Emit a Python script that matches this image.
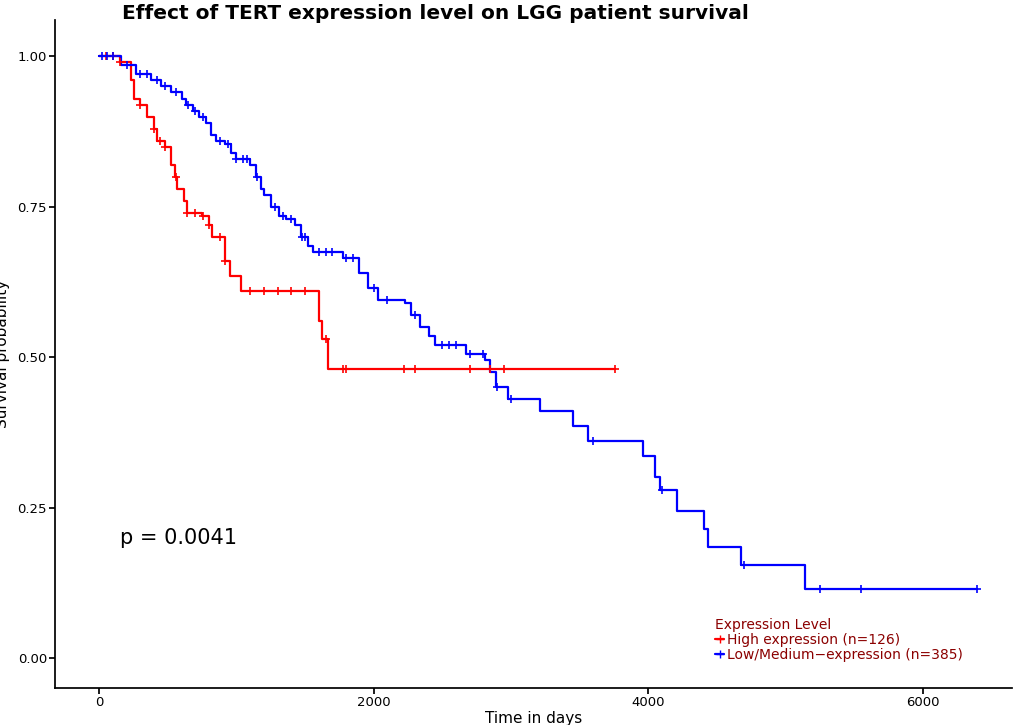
import numpy as np, pandas as pd, seaborn as sns, matplotlib
matplotlib.use("Agg")
import matplotlib.pyplot as plt
from matplotlib.lines import Line2D

red_t = [0,150,230,250,300,350,400,420,480,520,550,570,620,640,750,800,820,920,950,1030,1580,1600,1620,1670,3760]
red_s = [1.0,0.99,0.96,0.93,0.92,0.90,0.88,0.86,0.85,0.82,0.80,0.78,0.76,0.74,0.735,0.72,0.70,0.66,0.635,0.61,0.61,0.56,0.53,0.48,0.48]
red_c = [50,100,150,300,400,440,480,560,640,700,760,800,880,920,1100,1200,1300,1400,1500,1650,1780,1800,2220,2300,2700,2850,2950,3760]
blue_t = [0,160,270,380,450,520,600,630,680,730,780,815,850,920,960,1000,1100,1140,1180,1200,1250,1310,1360,1430,1470,1520,1560,1775,1890,1960,2035,2230,2270,2340,2400,2450,2670,2815,2850,2890,2980,3210,3450,3560,3960,4050,4090,4210,4410,4440,4680,5140,6400]
blue_s = [1.0,0.985,0.97,0.96,0.95,0.94,0.93,0.92,0.91,0.90,0.89,0.87,0.86,0.855,0.84,0.83,0.82,0.80,0.78,0.77,0.75,0.735,0.73,0.72,0.70,0.685,0.675,0.665,0.64,0.615,0.595,0.59,0.57,0.55,0.535,0.52,0.505,0.495,0.475,0.45,0.43,0.41,0.385,0.36,0.335,0.30,0.28,0.245,0.215,0.185,0.155,0.115,0.115]
blue_c = [20,60,100,200,300,350,420,480,560,650,700,760,880,940,1000,1050,1080,1150,1280,1340,1400,1480,1500,1600,1650,1700,1800,1850,2000,2100,2300,2500,2550,2600,2700,2800,2900,3000,3600,4100,4700,5250,5550,6400]
labels = ["High expression (n=126)", "Low/Medium\u2212expression (n=385)"]
colors = ["#FF0000", "#0000FF"]

sns.set_theme(style="white")
plt.rcParams['font.family'] = ['DejaVu Sans']
fig, ax = plt.subplots(figsize=(10.24, 7.25), dpi=100)
fig.subplots_adjust(left=0.054, right=0.988, top=0.972, bottom=0.051)

def surv_at(ts, ss, c):
    i = np.searchsorted(ts, c, side='right') - 1
    return ss[max(i, 0)]

for t, s, c, lab, col in [(red_t, red_s, red_c, labels[0], colors[0]), (blue_t, blue_s, blue_c, labels[1], colors[1])]:
    df = pd.DataFrame({"t": t, "s": s})
    sns.lineplot(data=df, x="t", y="s", drawstyle="steps-post", color=col, lw=1.6, ax=ax, estimator=None, sort=False)
    cdf = pd.DataFrame({"t": c, "s": [surv_at(t, s, x) for x in c]})
    sns.scatterplot(data=cdf, x="t", y="s", marker="+", s=40, color=col, linewidth=1.2, ax=ax, zorder=3)

ax.set_xlim(-320, 6650)
ax.set_ylim(-0.05, 1.06)
ax.set_xticks([0, 2000, 4000, 6000])
ax.set_yticks([0, 0.25, 0.5, 0.75, 1.0])
ax.set_yticklabels(["0.00", "0.25", "0.50", "0.75", "1.00"])
ax.tick_params(labelsize=9.5, length=4, pad=2, left=True, bottom=True, colors='black')
for sp in ["top", "right"]:
    ax.spines[sp].set_visible(False)
for sp in ["left", "bottom"]:
    ax.spines[sp].set_color("black")
ax.set_xlabel("Time in days", fontsize=11, color="black")
ax.set_ylabel("Survival probability", fontsize=11, color="black")
ax.xaxis.set_label_coords(0.5, -0.034)
ax.yaxis.set_label_coords(-0.047, 0.5)
fig.suptitle("Effect of TERT expression level on LGG patient survival", fontsize=14.5, fontweight="bold",
             x=0.425, y=0.995, color="black")
ax.text(150, 0.19, "p = 0.0041", fontsize=15, color="black")
handles = [Line2D([0], [0], color=col, lw=1.6, marker="+", markersize=6) for col in colors]
leg = ax.legend(handles, labels, title="Expression Level", loc="lower left", bbox_to_anchor=(0.68, 0.025),
                frameon=False, fontsize=10, title_fontsize=10, handlelength=0.6, handletextpad=0.25,
                labelspacing=0.05, borderpad=0.2)
leg._legend_box.align = "left"
leg.get_title().set_color("#8B0000")
for tx in leg.get_texts():
    tx.set_color("#8B0000")
fig.savefig("out.png")
